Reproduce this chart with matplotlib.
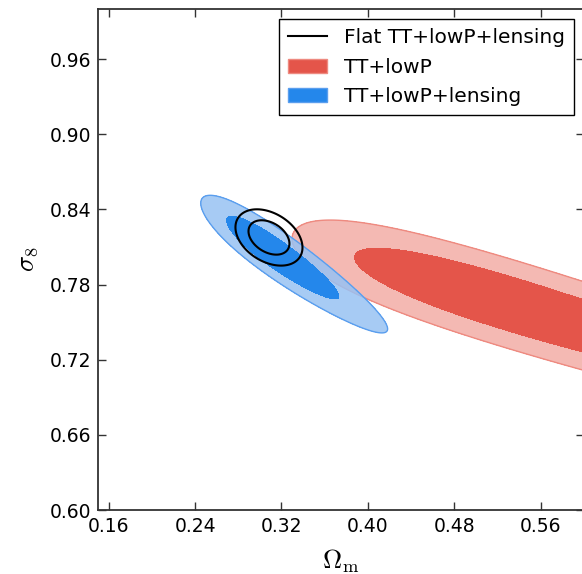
import numpy as np
import matplotlib
matplotlib.use("Agg")
import matplotlib.pyplot as plt
from matplotlib.lines import Line2D
from matplotlib.patches import Patch

plt.rcParams['mathtext.fontset'] = 'cm'
plt.rcParams['font.family'] = ['DejaVu Sans']

# ---- data: approximate posterior shapes ----
# each set: Gaussian in u = ln(Omega_m - x0) (or u = Omega_m if x0 is None),
# with sigma8 conditionally Gaussian about a straight ridge line
labels = ["TT+lowP", "TT+lowP+lensing", "Flat TT+lowP+lensing"]
x0_shift = [0.20, 0.10, None]          # log offset (None = linear)
om_center = [0.5345, 0.315, 0.3084]    # Omega_m at peak
u_sigma = [0.381, 0.158, 0.0125]       # width in u
s8_center = [0.7638, 0.8045, 0.8176]   # sigma8 at peak
ridge_slope = [-0.258, -0.58, -0.261]  # d sigma8 / d Omega_m of ridge
s8_sigma = [0.0145, 0.0087, 0.00844]   # conditional sigma8 width
levels_chi2 = [2.30, 6.17]             # 68% and 95%

colors_dark = ["#E4554A", "#2487EB"]
colors_light = ["#F4B9B3", "#98C2F3"]
colors_edge = ["#EE8A80", "#5A9EEE"]
light_alpha = [1.0, 0.85]

xticks = [0.16, 0.24, 0.32, 0.40, 0.48, 0.56]
yticks = [0.60, 0.66, 0.72, 0.78, 0.84, 0.90, 0.96]

W, H = 582, 574
fig = plt.figure(figsize=(W / 100, H / 100), dpi=100)
ax = fig.add_axes([98 / W, (H - 510) / H, (583.7 - 98) / W, (510 - 9) / H])

gx = np.linspace(0.10, 0.75, 1000)
gy = np.linspace(0.55, 1.05, 1000)
X, Y = np.meshgrid(gx, gy)


def chi2(i):
    x0 = x0_shift[i]
    if x0 is None:
        u = X
        mu = om_center[i]
    else:
        u = np.where(X > x0, np.log(np.clip(X - x0, 1e-9, None)), -1e3)
        mu = np.log(om_center[i] - x0)
    ridge = s8_center[i] + ridge_slope[i] * (X - om_center[i])
    return ((u - mu) / u_sigma[i]) ** 2 + ((Y - ridge) / s8_sigma[i]) ** 2


for i in range(2):
    C = chi2(i)
    z = 2 + 2 * i
    ax.contourf(X, Y, C, levels=[0, levels_chi2[1]],
                colors=[colors_light[i]], alpha=light_alpha[i], zorder=z)
    ax.contour(X, Y, C, levels=[levels_chi2[1]], colors=[colors_edge[i]],
               linewidths=1.0, zorder=z)
    ax.contourf(X, Y, C, levels=[0, levels_chi2[0]],
                colors=[colors_dark[i]], zorder=z + 1)

C = chi2(2)
ax.contour(X, Y, C, levels=levels_chi2, colors='black', linewidths=1.5,
           zorder=8)

ax.set_xlim(0.15, 0.60)
ax.set_ylim(0.60, 1.00)
ax.set_xticks(xticks)
ax.set_yticks(yticks)
ax.set_xticklabels([f"{t:.2f}" for t in xticks])
ax.set_yticklabels([f"{t:.2f}" for t in yticks])
ax.tick_params(direction='in', length=6, width=1, colors='#333333',
               labelcolor='black', labelsize=13.5, top=True, right=True, pad=5)
for sp in ax.spines.values():
    sp.set_linewidth(1.3)
    sp.set_color('#333333')

ax.set_xlabel(r"$\Omega_{\rm m}$", fontsize=19, labelpad=8)
ax.set_ylabel(r"$\sigma_8$", fontsize=19, labelpad=7)

handles = [Line2D([], [], color='black', lw=1.5),
           Patch(facecolor=colors_dark[0], edgecolor=colors_edge[0]),
           Patch(facecolor=colors_dark[1], edgecolor=colors_edge[1])]
leg = ax.legend(handles, [labels[2], labels[0], labels[1]], loc='upper right',
                fontsize=14.5, frameon=True, fancybox=False, edgecolor='black',
                framealpha=1, borderaxespad=0.5, handlelength=1.95,
                handletextpad=0.8, labelspacing=0.52, borderpad=0.45)
leg.get_frame().set_linewidth(1.0)
leg.set_zorder(10)

fig.savefig("out.png", dpi=100)
